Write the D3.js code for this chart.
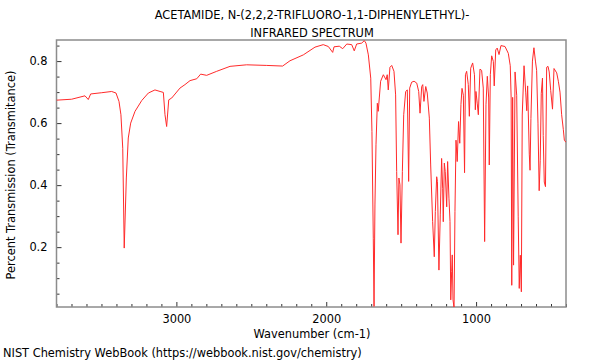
<!DOCTYPE html>
<html><head><meta charset="utf-8">
<script src="https://cdn.jsdelivr.net/npm/d3@7"></script>
<style>body{margin:0;background:#fff}svg{display:block}text{font-family:"DejaVu Sans",sans-serif}</style>
</head><body>
<svg id="c" width="600" height="360"></svg>
<script>
const titleLines = ["ACETAMIDE, N-(2,2,2-TRIFLUORO-1,1-DIPHENYLETHYL)-", "INFRARED SPECTRUM"];
const xLabel = "Wavenumber (cm-1)";
const yLabel = "Percent Transmission (Transmitance)";
const footer = "NIST Chemistry WebBook (https://webbook.nist.gov/chemistry)";
const xMajorTicks = [3000, 2000, 1000];
const yMajorTicks = [0.2, 0.4, 0.6, 0.8];
const wavenumber = [3800,3699,3610,3588,3572,3498,3432,3403,3383,3370,3358,3348,3334,3321,3305,3276,3231,3187,3143,3109,3087,3076,3065,3051,3031,2976,2943,2909,2864,2838,2798,2731,2642,2531,2397,2291,2242,2153,2075,2020,1986,1957,1948,1913,1890,1863,1830,1813,1797,1763,1746,1735,1719,1703,1695,1686,1681,1675,1668,1659,1653,1646,1637,1619,1601,1593,1586,1575,1563,1548,1537,1530,1521,1515,1508,1501,1492,1483,1470,1459,1450,1443,1430,1414,1396,1383,1374,1363,1356,1348,1336,1326,1312,1303,1290,1279,1272,1263,1258,1248,1239,1230,1223,1219,1212,1206,1196,1190,1181,1174,1169,1163,1159,1154,1147,1141,1134,1126,1117,1109,1101,1094,1085,1077,1071,1063,1052,1045,1036,1023,1011,1005,1001,992,985,974,963,952,943,934,925,916,912,905,896,885,879,869,859,847,834,807,785,772,766,762,756,750,740,729,719,712,705,698,692,680,669,662,656,645,640,634,624,614,604,596,587,579,572,565,557,552,545,537,529,520,512,502,490,480,462,451,440,429,418,411,400];
const transmittance = [0.674,0.677,0.688,0.676,0.694,0.698,0.702,0.697,0.670,0.627,0.519,0.197,0.423,0.552,0.600,0.638,0.673,0.697,0.707,0.702,0.699,0.627,0.589,0.675,0.681,0.713,0.724,0.737,0.743,0.758,0.754,0.767,0.783,0.788,0.786,0.784,0.801,0.820,0.845,0.853,0.847,0.828,0.846,0.848,0.840,0.855,0.853,0.833,0.855,0.858,0.866,0.858,0.820,0.745,0.573,0.229,0.009,0.336,0.530,0.664,0.638,0.681,0.735,0.756,0.740,0.756,0.707,0.780,0.786,0.767,0.691,0.444,0.240,0.423,0.401,0.213,0.444,0.627,0.702,0.707,0.412,0.713,0.732,0.735,0.729,0.702,0.632,0.718,0.724,0.670,0.718,0.697,0.616,0.465,0.283,0.169,0.315,0.427,0.412,0.126,0.304,0.486,0.390,0.282,0.471,0.444,0.330,0.476,0.358,0.283,0.030,0.122,0.175,0.030,0.004,0.315,0.545,0.476,0.605,0.535,0.660,0.712,0.690,0.440,0.756,0.767,0.724,0.622,0.777,0.794,0.756,0.643,0.702,0.662,0.627,0.774,0.770,0.713,0.218,0.659,0.751,0.681,0.465,0.756,0.817,0.799,0.720,0.836,0.842,0.821,0.850,0.847,0.825,0.785,0.681,0.077,0.683,0.142,0.765,0.690,0.300,0.067,0.174,0.056,0.626,0.785,0.700,0.640,0.720,0.500,0.448,0.615,0.800,0.843,0.800,0.770,0.600,0.382,0.480,0.696,0.745,0.560,0.410,0.395,0.780,0.783,0.765,0.705,0.645,0.776,0.762,0.735,0.700,0.627,0.580,0.545,0.538];

const svg = d3.select("#c");
const L = 56.5, R = 566, T = 40, B = 307;
const FS = "11.4px";
const x = d3.scaleLinear().domain([3800, 400]).range([L, R]);
const y = d3.scaleLinear().domain([0.007, 0.868]).range([B, T]);

svg.append("defs").append("clipPath").attr("id","clip")
  .append("rect").attr("x",L).attr("y",T).attr("width",R-L).attr("height",B-T);

// minor / major ticks (inward)
const xMinor = d3.range(3800, 399, -100).filter(v => !xMajorTicks.includes(v));
const yMinor = d3.range(1, 18).map(i => +(i*0.05).toFixed(2)).filter(v => !yMajorTicks.includes(v) && v < 0.868);

const gx = svg.append("g").attr("transform",`translate(0,${B})`);
gx.call(d3.axisBottom(x).tickValues(xMinor).tickSize(-3).tickFormat(""));
const gx2 = svg.append("g").attr("transform",`translate(0,${B})`);
gx2.call(d3.axisBottom(x).tickValues(xMajorTicks).tickSize(-5).tickPadding(8).tickFormat(d3.format("d")));
const gy = svg.append("g").attr("transform",`translate(${L},0)`);
gy.call(d3.axisLeft(y).tickValues(yMinor).tickSize(-3).tickFormat(""));
const gy2 = svg.append("g").attr("transform",`translate(${L},0)`);
gy2.call(d3.axisLeft(y).tickValues(yMajorTicks).tickSize(-5).tickPadding(9).tickFormat(d3.format(".1f")));
svg.selectAll(".domain").remove();
svg.selectAll(".tick line").attr("stroke","#333");
svg.selectAll(".tick text").attr("font-size",FS).attr("fill","#000").attr("font-family","DejaVu Sans");

// frame
svg.append("rect").attr("x",L).attr("y",T).attr("width",R-L).attr("height",B-T)
  .attr("fill","none").attr("stroke","#8c8c8c").attr("stroke-width",1.5);

// spectrum
const line = d3.line().x((d,i)=>x(wavenumber[i])).y((d,i)=>y(transmittance[i]));
svg.append("path").datum(wavenumber).attr("clip-path","url(#clip)")
  .attr("d", line).attr("fill","none").attr("stroke","#ff2a2a").attr("stroke-width",1).attr("stroke-linejoin","round");

// texts
const cx = 312;
svg.append("text").attr("x",cx).attr("y",19).attr("text-anchor","middle").attr("font-size",FS).text(titleLines[0]);
svg.append("text").attr("x",cx).attr("y",37).attr("text-anchor","middle").attr("font-size",FS).text(titleLines[1]);
svg.append("text").attr("x",cx).attr("y",338).attr("text-anchor","middle").attr("font-size",FS).text(xLabel);
svg.append("text").attr("transform","translate(15,175) rotate(-90)").attr("text-anchor","middle").attr("font-size",FS).text(yLabel);
svg.append("text").attr("x",3).attr("y",357).attr("font-size",FS).text(footer);
</script>
</body></html>
